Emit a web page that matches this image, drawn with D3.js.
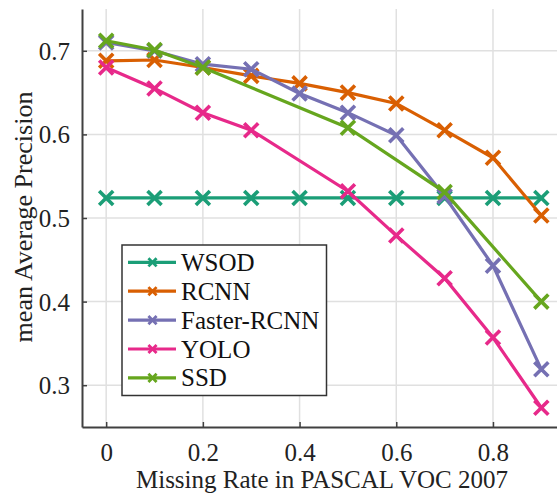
<!DOCTYPE html>
<html>
<head>
<meta charset="utf-8">
<script src="https://cdn.jsdelivr.net/npm/d3@7"></script>
<style>
  body { margin: 0; background: #fff; }
</style>
</head>
<body>
<div id="chart"></div>
<script>
// data
var missingRate = [0, 0.1, 0.2, 0.3, 0.4, 0.5, 0.6, 0.7, 0.8, 0.9];
var seriesNames = ["WSOD", "RCNN", "Faster-RCNN", "YOLO", "SSD"];
var seriesColors = ["#1b9e77", "#d95f02", "#7570b3", "#e7298a", "#66a61e"];
var wsod   = [0.524, 0.524, 0.524, 0.524, 0.524, 0.524, 0.524, 0.524, 0.524, 0.524];
var rcnn   = [0.688, 0.689, 0.680, 0.670, 0.661, 0.650, 0.637, 0.605, 0.572, 0.503];
var faster = [0.710, 0.700, 0.684, 0.678, 0.649, 0.626, 0.599, 0.526, 0.443, 0.319];
var yolo   = [0.680, 0.655, 0.626, 0.605, null, 0.532, 0.479, 0.428, 0.357, 0.273];
var ssd    = [0.712, 0.701, 0.680, null, null, 0.608, null, 0.531, null, 0.400];
var xTicks = [0, 0.2, 0.4, 0.6, 0.8];
var yTicks = [0.3, 0.4, 0.5, 0.6, 0.7];

var allSeries = [wsod, rcnn, faster, yolo, ssd];

var serif = "Liberation Serif";

//Width and height
var w = 557;
var h = 493;

var x = d3.scaleLinear().domain([-0.05, 0.95]).range([82, 565.5]);
var y = d3.scaleLinear().domain([0.25, 0.75]).range([427, 9]);

var svg = d3.select("#chart")
  .append("svg")
  .attr("width", w)
  .attr("height", h)
  .style("font-family", serif);

//grid
svg.append("g")
  .selectAll("line")
  .data(xTicks.concat([1.0]))
  .enter()
  .append("line")
  .attr("x1", function(d) { return x(d); })
  .attr("x2", function(d) { return x(d); })
  .attr("y1", y(0.75))
  .attr("y2", y(0.25))
  .attr("stroke", "#e0e0e0")
  .attr("stroke-width", 1.5);

svg.append("g")
  .selectAll("line")
  .data(yTicks)
  .enter()
  .append("line")
  .attr("x1", x(-0.05))
  .attr("x2", w)
  .attr("y1", function(d) { return y(d); })
  .attr("y2", function(d) { return y(d); })
  .attr("stroke", "#e0e0e0")
  .attr("stroke-width", 1.5);

//axes, ticks pointing inward
var xAxis = d3.axisBottom(x)
  .tickValues(xTicks)
  .tickSizeInner(-5)
  .tickSizeOuter(0)
  .tickPadding(34)
  .tickFormat(function(d) { return d === 0 ? "0" : d3.format(".1f")(d); });

var yAxis = d3.axisLeft(y)
  .tickValues(yTicks)
  .tickSizeInner(-5)
  .tickSizeOuter(0)
  .tickPadding(10)
  .tickFormat(d3.format(".1f"));

var gx = svg.append("g")
  .attr("transform", "translate(0," + y(0.25) + ")")
  .call(xAxis);

var gy = svg.append("g")
  .attr("transform", "translate(" + x(-0.05) + ",0)")
  .call(yAxis);

[gx, gy].forEach(function(g) {
  g.attr("font-family", null).attr("font-size", null);
  g.select(".domain").attr("stroke", "#404040").attr("stroke-width", 2);
  g.selectAll(".tick line").attr("stroke", "#404040").attr("stroke-width", 1.5);
  g.selectAll(".tick text")
    .style("font-family", serif)
    .style("font-size", "25px")
    .attr("fill", "#222");
});
gx.selectAll(".tick text").attr("dy", 0);
gy.selectAll(".tick text").attr("dy", 8.5).attr("dx", -2);

//series lines and markers
var line = d3.line()
  .x(function(d) { return x(d.x); })
  .y(function(d) { return y(d.v); });

var marker = d3.symbol().type(d3.symbolX).size(130);

allSeries.forEach(function(vals, i) {
  var pts = [];
  for (var k = 0; k < vals.length; k++) {
    if (vals[k] !== null) pts.push({ x: missingRate[k], v: vals[k] });
  }
  var g = svg.append("g");
  g.append("path")
    .datum(pts)
    .attr("d", line)
    .attr("fill", "none")
    .attr("stroke", seriesColors[i])
    .attr("stroke-width", 3.2);
  g.selectAll("path.m")
    .data(pts)
    .enter()
    .append("path")
    .attr("class", "m")
    .attr("d", marker)
    .attr("transform", function(d) { return "translate(" + x(d.x) + "," + y(d.v) + ")"; })
    .attr("fill", "none")
    .attr("stroke", seriesColors[i])
    .attr("stroke-width", 3.6);
});

//axis labels
svg.append("text")
  .attr("x", 322)
  .attr("y", 488)
  .attr("text-anchor", "middle")
  .style("font-family", serif)
  .style("font-size", "25px")
  .attr("fill", "#222")
  .text("Missing Rate in PASCAL VOC 2007");

svg.append("text")
  .attr("transform", "translate(32,217) rotate(-90)")
  .attr("text-anchor", "middle")
  .style("font-family", serif)
  .style("font-size", "26px")
  .attr("fill", "#222")
  .text("mean Average Precision");

//legend
var legend = svg.append("g");
legend.append("rect")
  .attr("x", 122)
  .attr("y", 245)
  .attr("width", 204.5)
  .attr("height", 150.5)
  .attr("fill", "#fff")
  .attr("stroke", "#333")
  .attr("stroke-width", 1.5);

var legendMarker = d3.symbol().type(d3.symbolX).size(45);

seriesNames.forEach(function(name, i) {
  var ly = 262.3 + i * 28.9;
  legend.append("line")
    .attr("x1", 128)
    .attr("x2", 176)
    .attr("y1", ly)
    .attr("y2", ly)
    .attr("stroke", seriesColors[i])
    .attr("stroke-width", 3.2);
  legend.append("path")
    .attr("d", legendMarker)
    .attr("transform", "translate(152.5," + ly + ")")
    .attr("fill", "none")
    .attr("stroke", seriesColors[i])
    .attr("stroke-width", 2.8);
  legend.append("text")
    .attr("x", 181)
    .attr("y", ly + 8.5)
    .style("font-family", serif)
    .style("font-size", "25px")
    .attr("fill", "#111")
    .text(name);
});
</script>
</body>
</html>
